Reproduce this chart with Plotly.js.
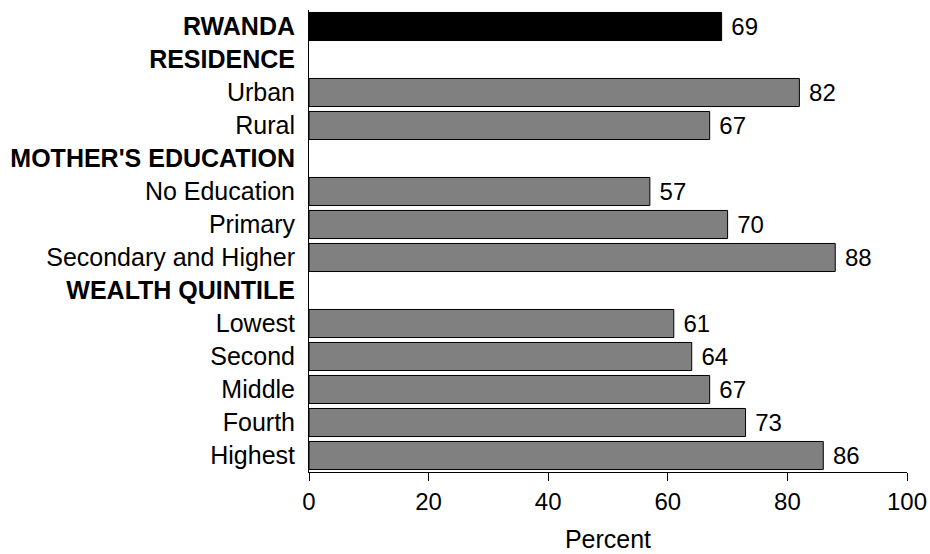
<!DOCTYPE html>
<html>
<head>
<meta charset="utf-8">
<script src="https://cdn.plot.ly/plotly-3.0.1.min.js"></script>
<style>html,body{margin:0;padding:0;background:#fff;}#chart{width:930px;height:554px;}</style>
</head>
<body>
<div id="chart"></div>
<script>
const categories = ["RWANDA","RESIDENCE","Urban","Rural","MOTHER'S EDUCATION","No Education","Primary","Secondary and Higher","WEALTH QUINTILE","Lowest","Second","Middle","Fourth","Highest"];
const headers = ["RWANDA","RESIDENCE","MOTHER'S EDUCATION","WEALTH QUINTILE"];
const values = [69,null,82,67,null,57,70,88,null,61,64,67,73,86];
const xTicks = [0,20,40,60,80,100];

const ids = categories.map((c,i)=>"r"+i);
const ticktext = categories.map(c => headers.includes(c) ? "<b>"+c+"</b>" : c);
const colors = categories.map(c => c==="RWANDA" ? "#000000" : "#808080");
const texts = values.map(v => v==null ? "" : " " + String(v));
const FONT = "Liberation Sans, Arial, sans-serif";

const trace = {
  type:"bar", orientation:"h",
  y: ids, x: values,
  marker:{color:colors, line:{color:"#000", width:1}},
  width: 0.85,
  text: texts, textposition:"outside", cliponaxis:false,
  textfont:{family:FONT, size:24, color:"#000"},
  hoverinfo:"none"
};
const layout = {
  width:930, height:554,
  margin:{l:309, r:23, t:10, b:82},
  paper_bgcolor:"#fff", plot_bgcolor:"#fff",
  font:{family:FONT, size:25, color:"#000"},
  showlegend:false,
  xaxis:{range:[0,100], tickvals:xTicks, ticks:"outside", ticklen:8, tickcolor:"#000",
    showline:true, linecolor:"#000", linewidth:1, showgrid:false, zeroline:false,
    tickfont:{size:24}, title:{text:"Percent", font:{size:25}, standoff:16}},
  yaxis:{type:"category", categoryorder:"array", categoryarray:ids, autorange:"reversed",
    tickvals:ids, ticktext:ticktext, ticks:"", showline:true, linecolor:"#000", linewidth:1,
    showgrid:false, zeroline:false, ticklabelstandoff:8, tickfont:{size:25}}
};
Plotly.newPlot("chart",[trace],layout,{staticPlot:true,displayModeBar:false});
</script>
</body>
</html>
